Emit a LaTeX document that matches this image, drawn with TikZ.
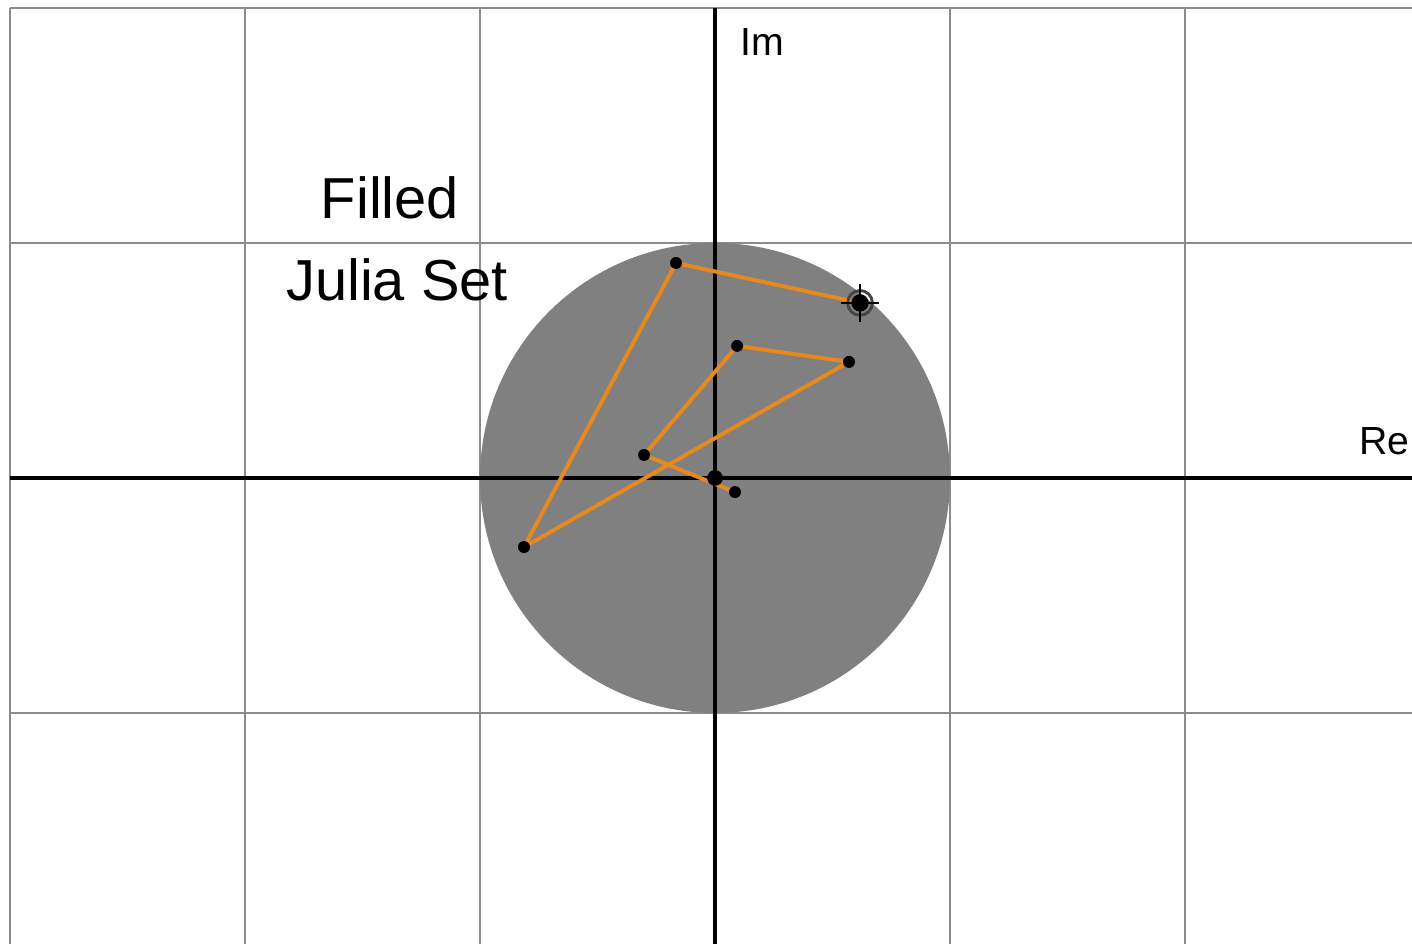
\documentclass[tikz,border=0pt]{standalone}
\usepackage{fontspec}
\setmainfont{Liberation Sans}
\usetikzlibrary{calc}
\definecolor{gridgray}{HTML}{8C8C8C}
\definecolor{diskgray}{HTML}{808080}
\definecolor{orbit}{HTML}{E8891E}
\definecolor{ringgray}{HTML}{444444}

\begin{document}
\begin{tikzpicture}[x=2cm,y=2cm,font=\fontsize{9.5}{11}\selectfont]
 \useasboundingbox(-3.043,-1.983)rectangle(2.966,2.034);
 % grid and filled disk
 \draw[gridgray,line width=.5pt,step=2cm](-3,-1.983)grid(2.966,2.001);
 \fill[diskgray](0,0)circle(1);
 \draw[line width=.75pt](-3,0)--(2.966,0);
 \draw[line width=.75pt](0,2)--(0,-1.983);
 % orbit points
 \coordinate(z0)at(0.617,0.745);
 \coordinate(z1)at(-0.166,0.915);
 \coordinate(z2)at(-0.813,-0.294);
 \coordinate(z3)at(0.570,0.494);
 \coordinate(z4)at(0.094,0.562);
 \coordinate(z5)at(-0.302,0.098);
 \coordinate(z6)at(0.085,-0.060);
 \coordinate(o)at(0,0);
 \draw[orbit,line width=.95pt,line join=round](z0)--(z1)--(z2)--(z3)--(z4)--(z5)--(z6);
 \foreach \p in {z1,z2,z3,z4,z5,z6}\fill(\p)circle(1.45pt);
 \fill(o)circle(1.9pt);
 % starting point marker
 \draw[ringgray,line width=.7pt](z0)circle(3pt);
 \fill(z0)circle(2.1pt);
 \draw[line width=.45pt]($(z0)+(-4.6pt,0)$)--($(z0)+(4.6pt,0)$);
 \draw[line width=.45pt]($(z0)+(0,-4.6pt)$)--($(z0)+(0,4.6pt)$);
 % labels
 \node[anchor=west](im)at(0.046,1.855){Im};
 \node(re)at(2.85,0.157){Re};
 \node[font=\fontsize{14}{16}\selectfont](filled)at(-1.383,1.191){Filled};
 \node[font=\fontsize{14}{16}\selectfont](julia)at(-1.353,0.843){Julia Set};
\end{tikzpicture}
\end{document}
